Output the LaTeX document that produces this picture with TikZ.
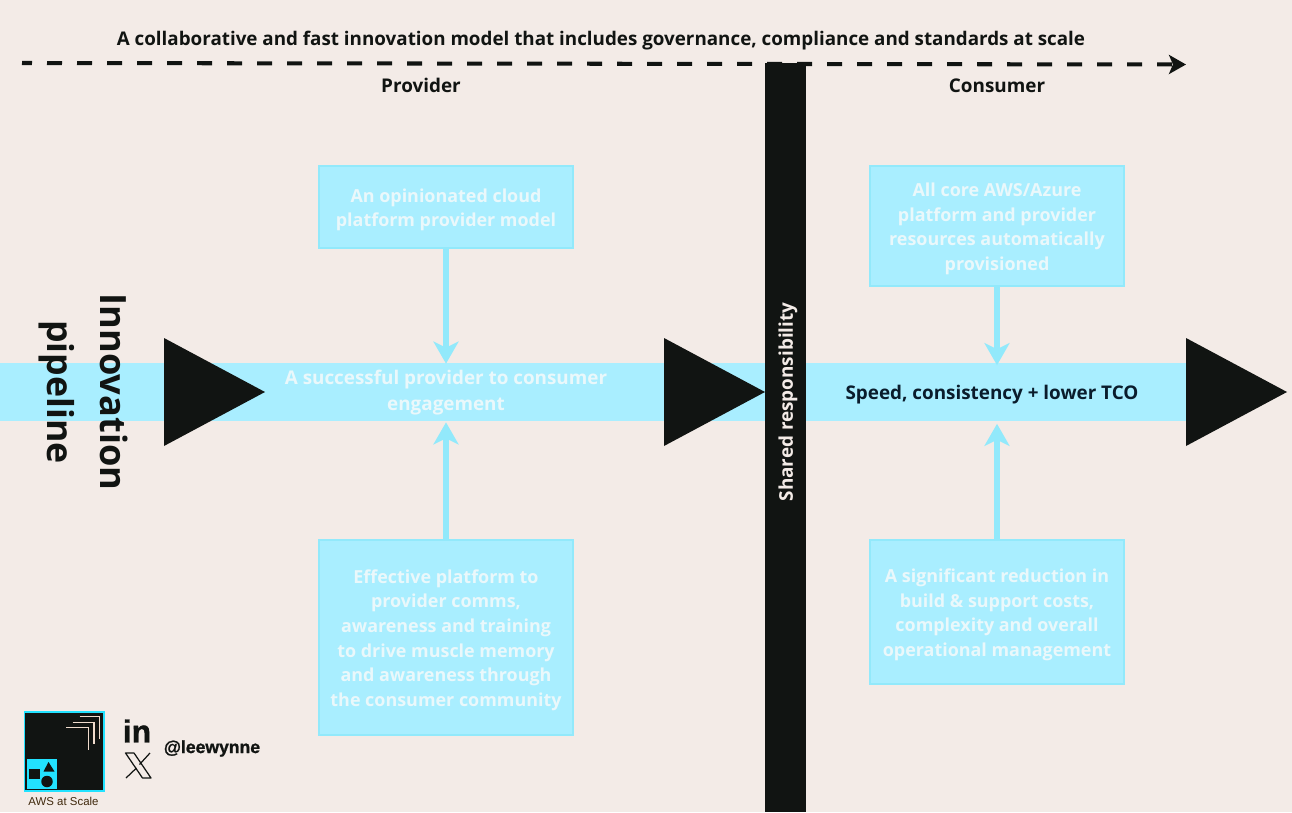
\documentclass[tikz,border=0pt]{standalone}
\usepackage{fontspec}
\setmainfont{Open Sans}
\newfontfamily\logofont[BoldFeatures={FakeBold=1.2}]{Liberation Sans}
\usetikzlibrary{arrows.meta}
\definecolor{paper}{HTML}{F3EBE7}
\definecolor{band}{HTML}{A9EEFF}
\definecolor{bandedge}{HTML}{92E9FB}
\definecolor{boxtext}{HTML}{EAF8FB}
\definecolor{ink}{HTML}{111412}
\definecolor{navy}{HTML}{0A1C2C}
\definecolor{logocyan}{HTML}{22E2FF}
\definecolor{chevron}{HTML}{F0DCCD}

\begin{document}
\begin{tikzpicture}[
    every node/.style={font=\bfseries\fontsize{10.75}{14}\selectfont, text=ink, align=center},
    infobox/.style={draw=bandedge, fill=band, line width=0.6pt, minimum width=5.08cm, inner sep=0pt},
    boxlabel/.style={text=boxtext, inner sep=0pt, font=\bfseries\fontsize{10.2}{14.05}\selectfont},
    bandtext/.style={minimum height=1.16cm, inner sep=0pt,
        font=\bfseries\fontsize{10.73}{14.8}\selectfont},
    headtri/.style={fill=ink},
    feed/.style={draw=bandedge, line width=3pt, -{Stealth[length=0.44cm, width=0.5cm, inset=0.12cm]}}
]
    \useasboundingbox (0,0) rectangle (25.84,16.24);
    \fill[paper] (0,0) rectangle (25.84,16.24);

    % pipeline band
    \fill[band] (0,7.82) rectangle (15.3,8.98);
    \fill[band] (16.12,7.82) rectangle (23.72,8.98);
    \fill[headtri] (3.28,7.32) -- (5.3,8.4) -- (3.28,9.48) -- cycle;
    \fill[headtri] (13.28,7.32) -- (15.3,8.4) -- (13.28,9.48) -- cycle;
    \fill[headtri] (23.72,7.32) -- (25.74,8.4) -- (23.72,9.48) -- cycle;
    \fill[ink] (15.3,0) rectangle (16.12,14.98);

    % top line
    \node[font=\bfseries\fontsize{10.7}{14}\selectfont] (title) at (12.02,15.42) {A collaborative and fast innovation model that includes governance, compliance and standards at scale};
    \coordinate (linestart) at (0.44,14.98);
    \coordinate (lineend) at (23.72,14.95);
    \draw[ink, line width=2.3pt, dash pattern=on 0.3cm off 0.3cm, dash phase=0.1cm, -{Stealth[length=0.34cm, width=0.38cm, inset=0.08cm]}] (linestart) -- (lineend);
    \node (provider) at (8.42,14.53) {Provider};
    \node (consumer) at (19.94,14.53) {Consumer};

    \node[rotate=-90, font=\bfseries\fontsize{20.6}{30}\selectfont] (innovation) at (2.28,8.4) {Innovation};
    \node[rotate=-90, font=\bfseries\fontsize{20.3}{30}\selectfont] (pipeline) at (1.14,8.4) {pipeline};
    \node[rotate=90, text=paper] (shared) at (15.76,8.2) {Shared responsibility};

    % provider side
    \node[bandtext, text=boxtext] (engagement) at (8.92,8.38) {A successful provider to consumer\\engagement};
    \node[infobox, minimum height=1.64cm] (opinion) at (8.92,12.1) {};
    \node[boxlabel] (opiniontext) at (8.92,12.045) {An opinionated cloud\\platform provider model};
    \node[infobox, minimum height=3.9cm] (comms) at (8.92,3.49) {};
    \node[boxlabel] (commstext) at (8.92,3.435) {Effective platform to\\provider comms,\\awareness and training\\to drive muscle memory\\and awareness through\\the consumer community};
    \draw[feed] (opinion) -- (engagement);
    \draw[feed] (comms) -- (engagement);

    % consumer side
    \node[bandtext, text=navy] (speed) at (19.84,8.35) {Speed, consistency + lower TCO};
    \node[infobox, minimum height=2.4cm] (core) at (19.94,11.72) {};
    \node[boxlabel] (coretext) at (19.94,11.665) {All core AWS/Azure\\platform and provider\\resources automatically\\provisioned};
    \node[infobox, minimum height=2.88cm] (costs) at (19.94,4.0) {};
    \node[boxlabel] (coststext) at (19.94,3.945) {A significant reduction in\\build \& support costs,\\complexity and overall\\operational management};
    \draw[feed] (core) -- (core |- speed.north);
    \draw[feed] (costs) -- (costs |- speed.south);

    % logo
    \draw[draw=logocyan, fill=ink, line width=1pt] (0.49,0.42) rectangle (2.08,2.0);
    \draw[draw=ink, fill=logocyan, line width=1pt] (0.52,0.45) rectangle (1.16,1.08);
    \fill[ink] (0.58,0.66) rectangle (0.8,0.86);
    \fill[ink] (0.97,1.0) -- (1.09,0.81) -- (0.87,0.81) -- cycle;
    \fill[ink] (0.94,0.61) circle (0.115);
    \foreach \xa/\xb/\ya/\yb in {1.32/1.77/1.69/1.25, 1.45/1.88/1.79/1.37, 1.59/1.99/1.91/1.47} {
        \draw[chevron, line width=0.8pt] (\xa,\ya) -- (\xb,\ya) -- (\xb,\yb);
    }
    \node[font=\logofont\fontsize{6.5}{8}\selectfont, text=ink!80!orange] (brand) at (1.27,0.21) {AWS at Scale};

    % handles
    \node[font=\logofont\bfseries\fontsize{18}{20}\selectfont, inner sep=0pt] (linkedin) at (2.74,1.62) {in};
    \draw[ink, line width=0.7pt, line join=round] (2.51,1.18) -- (2.68,1.18) -- (3.02,0.68) -- (2.85,0.68) -- cycle;
    \draw[ink, line width=0.7pt] (3.0,1.18) -- (2.79,0.95);
    \draw[ink, line width=0.7pt] (2.73,0.88) -- (2.52,0.68);
    \node[font=\logofont\bfseries\fontsize{10}{12}\selectfont, anchor=west, inner sep=0pt] (handle) at (3.27,1.27) {@leewynne};
\end{tikzpicture}
\end{document}
